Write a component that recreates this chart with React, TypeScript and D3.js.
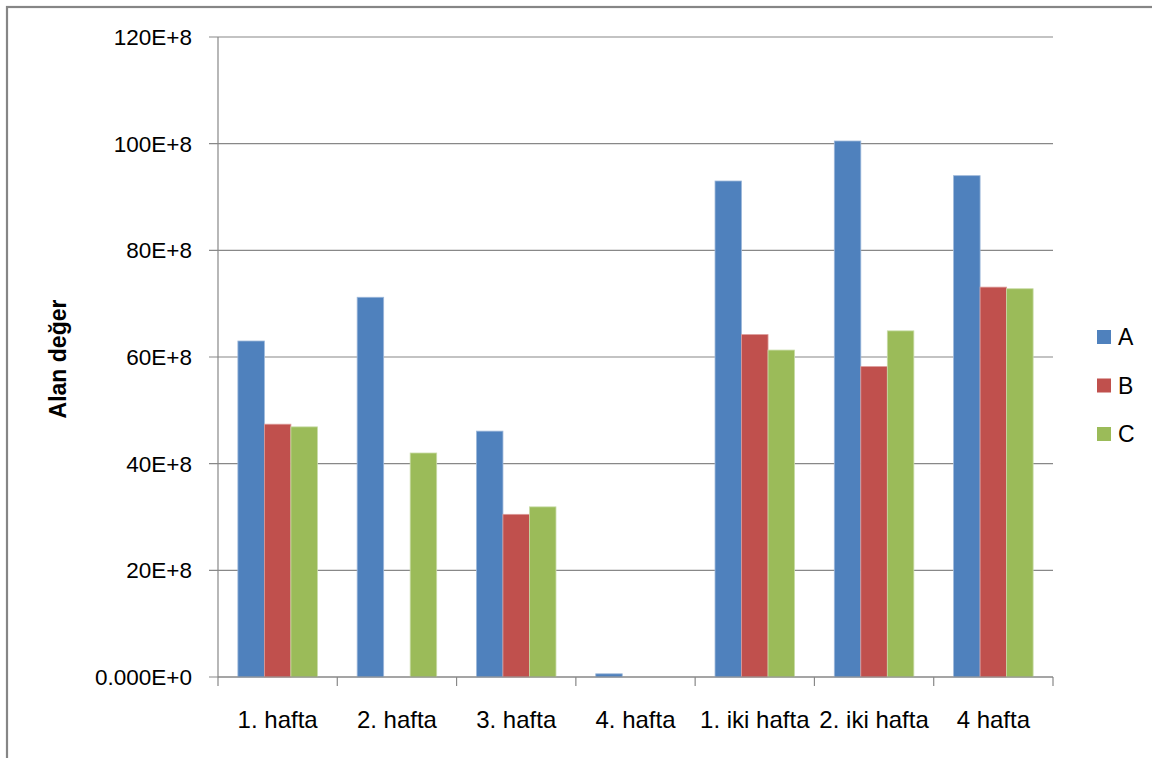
import React from "react";
import * as d3 from "d3";

// Weekly "Alan değer" values, in units of 1E+8
const categories = ["1. hafta", "2. hafta", "3. hafta", "4. hafta", "1. iki hafta", "2. iki hafta", "4 hafta"];
const seriesNames = ["A", "B", "C"];
const valuesA = [63.0, 71.2, 46.1, 0.6, 93.0, 100.5, 94.0];
const valuesB = [47.4, 0, 30.5, 0, 64.2, 58.2, 73.1];
const valuesC = [46.9, 42.0, 31.9, 0, 61.3, 64.9, 72.8];
const yTicks = [0, 20, 40, 60, 80, 100, 120];
const yTickLabels = ["0.000E+0", "20E+8", "40E+8", "60E+8", "80E+8", "100E+8", "120E+8"];
const colors = ["#4F81BD", "#C0504D", "#9BBB59"];
const strokes = ["#9DB8DA", "#DC9B99", "#C8DBA6"];

const W = 1152;
const H = 758;
const plot = { left: 218, right: 1053, top: 37, bottom: 677 };
const FONT = "'Liberation Sans', Arial, sans-serif";
const GRID = "#888888";

export default function App() {
  const x = d3.scaleBand<string>().domain(categories).range([plot.left, plot.right]).padding(0);
  const xInner = d3
    .scaleBand<string>()
    .domain(seriesNames)
    .range([0, x.bandwidth()])
    .paddingInner(0)
    .paddingOuter(0.75);
  const y = d3.scaleLinear().domain([0, 120]).range([plot.bottom, plot.top]);
  const series = [valuesA, valuesB, valuesC];

  const catEdges = categories.map((c) => x(c) as number).concat([plot.right]);

  return (
    <svg
      width={W}
      height={H}
      style={{ position: "absolute", left: 0, top: 0, background: "#fff" }}
      fontFamily={FONT}
    >
      {/* chart frame */}
      <rect x={7} y={7} width={W + 50} height={H + 50} fill="none" stroke="#868686" strokeWidth={2.2} />

      {/* horizontal gridlines and y ticks */}
      {yTicks.map((t, i) => (
        <g key={t}>
          <line x1={plot.left - 9} x2={plot.right} y1={y(t)} y2={y(t)} stroke={GRID} strokeWidth={1.2} />
          <text x={192} y={y(t) + 8} textAnchor="end" fontSize={22.5} fill="#000">
            {yTickLabels[i]}
          </text>
        </g>
      ))}

      {/* y axis line */}
      <line x1={plot.left} x2={plot.left} y1={plot.top} y2={plot.bottom} stroke={GRID} strokeWidth={1.2} />

      {/* x axis tick marks */}
      {catEdges.map((e, i) => (
        <line key={i} x1={e} x2={e} y1={plot.bottom} y2={plot.bottom + 9} stroke={GRID} strokeWidth={1.2} />
      ))}

      {/* bars */}
      {categories.map((c, ci) => (
        <g key={c} transform={`translate(${x(c)},0)`}>
          {series.map((vals, si) => {
            const v = vals[ci];
            if (!v) return null;
            const bx = xInner(seriesNames[si]) as number;
            return (
              <rect
                key={si}
                x={bx}
                y={y(v)}
                width={xInner.bandwidth()}
                height={y(0) - y(v)}
                fill={colors[si]}
                stroke={strokes[si]}
                strokeWidth={0.8}
              />
            );
          })}
        </g>
      ))}

      {/* x axis baseline on top of bars */}
      <line x1={plot.left} x2={plot.right} y1={plot.bottom} y2={plot.bottom} stroke={GRID} strokeWidth={1.2} />

      {/* category labels */}
      {categories.map((c) => (
        <text
          key={c}
          x={(x(c) as number) + x.bandwidth() / 2}
          y={728}
          textAnchor="middle"
          fontSize={24}
          fill="#000"
        >
          {c}
        </text>
      ))}

      {/* y axis title */}
      <text
        transform={`translate(66,${359}) rotate(-90)`}
        textAnchor="middle"
        fontSize={23}
        fontWeight="bold"
        fill="#000"
      >
        Alan değer
      </text>

      {/* legend */}
      {seriesNames.map((s, i) => (
        <g key={s} transform={`translate(1097,${330 + i * 48.5})`}>
          <rect x={0} y={0} width={14} height={14} fill={colors[i]} />
          <text x={21} y={15} fontSize={23} fill="#000">
            {s}
          </text>
        </g>
      ))}
    </svg>
  );
}
